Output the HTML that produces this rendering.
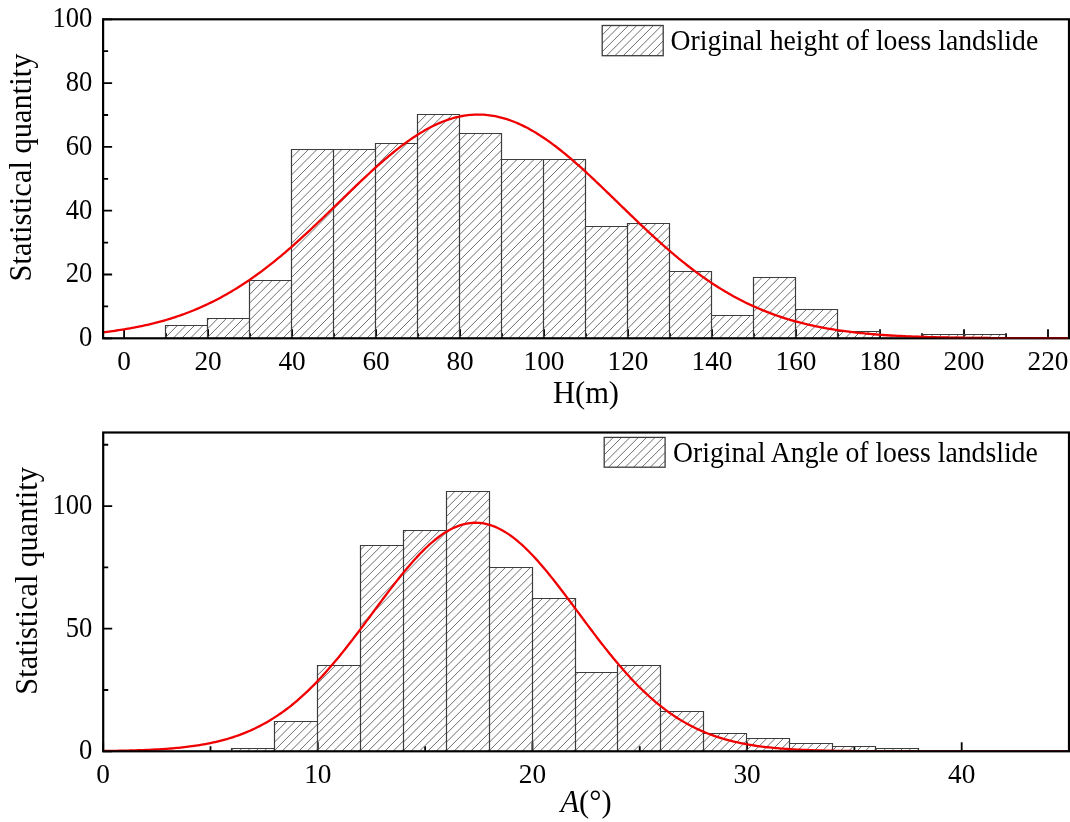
<!DOCTYPE html>
<html><head><meta charset="utf-8"><style>
html,body{margin:0;padding:0;background:#fff;width:1070px;height:822px;overflow:hidden}
svg{display:block;filter:blur(0.4px)}
text{font-family:"Liberation Serif", serif;fill:#000}
</style></head><body>
<svg width="1070" height="822" viewBox="0 0 1070 822">
<rect width="1070" height="822" fill="#fff"/>
<path d="M124.10,338.30V329.30M208.09,338.30V329.30M292.08,338.30V329.30M376.07,338.30V329.30M460.06,338.30V329.30M544.05,338.30V329.30M628.05,338.30V329.30M712.04,338.30V329.30M796.03,338.30V329.30M880.02,338.30V329.30M964.01,338.30V329.30M1048.00,338.30V329.30M166.09,338.30V333.30M250.08,338.30V333.30M334.08,338.30V333.30M418.07,338.30V333.30M502.06,338.30V333.30M586.05,338.30V333.30M670.04,338.30V333.30M754.03,338.30V333.30M838.02,338.30V333.30M922.02,338.30V333.30M1006.01,338.30V333.30M103.10,338.30H112.10M103.10,274.50H112.10M103.10,210.70H112.10M103.10,146.90H112.10M103.10,83.10H112.10M103.10,19.30H112.10M103.10,306.40H108.10M103.10,242.60H108.10M103.10,178.80H108.10M103.10,115.00H108.10M103.10,51.20H108.10" stroke="#000" stroke-width="1.8" fill="none"/>
<path d="M207.35,338.30L207.50,338.15M198.80,338.30L207.50,329.60M190.25,338.30L203.05,325.50M181.70,338.30L194.50,325.50M173.15,338.30L185.95,325.50M165.50,337.40L177.40,325.50M165.50,328.85L168.85,325.50M249.35,338.30L249.50,338.15M240.80,338.30L249.50,329.60M232.25,338.30L249.50,321.05M223.70,338.30L243.50,318.50M215.15,338.30L234.95,318.50M207.50,337.40L226.40,318.50M207.50,328.85L217.85,318.50M207.50,320.30L209.30,318.50M291.35,338.30L291.50,338.15M282.80,338.30L291.50,329.60M274.25,338.30L291.50,321.05M265.70,338.30L291.50,312.50M257.15,338.30L291.50,303.95M249.50,337.40L291.50,295.40M249.50,328.85L291.50,286.85M249.50,320.30L289.30,280.50M249.50,311.75L280.75,280.50M249.50,303.20L272.20,280.50M249.50,294.65L263.65,280.50M249.50,286.10L255.10,280.50M333.35,338.30L333.50,338.15M324.80,338.30L333.50,329.60M316.25,338.30L333.50,321.05M307.70,338.30L333.50,312.50M299.15,338.30L333.50,303.95M291.50,337.40L333.50,295.40M291.50,328.85L333.50,286.85M291.50,320.30L333.50,278.30M291.50,311.75L333.50,269.75M291.50,303.20L333.50,261.20M291.50,294.65L333.50,252.65M291.50,286.10L333.50,244.10M291.50,277.55L333.50,235.55M291.50,269.00L333.50,227.00M291.50,260.45L333.50,218.45M291.50,251.90L333.50,209.90M291.50,243.35L333.50,201.35M291.50,234.80L333.50,192.80M291.50,226.25L333.50,184.25M291.50,217.70L333.50,175.70M291.50,209.15L333.50,167.15M291.50,200.60L333.50,158.60M291.50,192.05L333.50,150.05M291.50,183.50L325.50,149.50M291.50,174.95L316.95,149.50M291.50,166.40L308.40,149.50M291.50,157.85L299.85,149.50M375.35,338.30L375.50,338.15M366.80,338.30L375.50,329.60M358.25,338.30L375.50,321.05M349.70,338.30L375.50,312.50M341.15,338.30L375.50,303.95M333.50,337.40L375.50,295.40M333.50,328.85L375.50,286.85M333.50,320.30L375.50,278.30M333.50,311.75L375.50,269.75M333.50,303.20L375.50,261.20M333.50,294.65L375.50,252.65M333.50,286.10L375.50,244.10M333.50,277.55L375.50,235.55M333.50,269.00L375.50,227.00M333.50,260.45L375.50,218.45M333.50,251.90L375.50,209.90M333.50,243.35L375.50,201.35M333.50,234.80L375.50,192.80M333.50,226.25L375.50,184.25M333.50,217.70L375.50,175.70M333.50,209.15L375.50,167.15M333.50,200.60L375.50,158.60M333.50,192.05L375.50,150.05M333.50,183.50L367.50,149.50M333.50,174.95L358.95,149.50M333.50,166.40L350.40,149.50M333.50,157.85L341.85,149.50M417.35,338.30L417.50,338.15M408.80,338.30L417.50,329.60M400.25,338.30L417.50,321.05M391.70,338.30L417.50,312.50M383.15,338.30L417.50,303.95M375.50,337.40L417.50,295.40M375.50,328.85L417.50,286.85M375.50,320.30L417.50,278.30M375.50,311.75L417.50,269.75M375.50,303.20L417.50,261.20M375.50,294.65L417.50,252.65M375.50,286.10L417.50,244.10M375.50,277.55L417.50,235.55M375.50,269.00L417.50,227.00M375.50,260.45L417.50,218.45M375.50,251.90L417.50,209.90M375.50,243.35L417.50,201.35M375.50,234.80L417.50,192.80M375.50,226.25L417.50,184.25M375.50,217.70L417.50,175.70M375.50,209.15L417.50,167.15M375.50,200.60L417.50,158.60M375.50,192.05L417.50,150.05M375.50,183.50L415.50,143.50M375.50,174.95L406.95,143.50M375.50,166.40L398.40,143.50M375.50,157.85L389.85,143.50M375.50,149.30L381.30,143.50M459.35,338.30L459.50,338.15M450.80,338.30L459.50,329.60M442.25,338.30L459.50,321.05M433.70,338.30L459.50,312.50M425.15,338.30L459.50,303.95M417.50,337.40L459.50,295.40M417.50,328.85L459.50,286.85M417.50,320.30L459.50,278.30M417.50,311.75L459.50,269.75M417.50,303.20L459.50,261.20M417.50,294.65L459.50,252.65M417.50,286.10L459.50,244.10M417.50,277.55L459.50,235.55M417.50,269.00L459.50,227.00M417.50,260.45L459.50,218.45M417.50,251.90L459.50,209.90M417.50,243.35L459.50,201.35M417.50,234.80L459.50,192.80M417.50,226.25L459.50,184.25M417.50,217.70L459.50,175.70M417.50,209.15L459.50,167.15M417.50,200.60L459.50,158.60M417.50,192.05L459.50,150.05M417.50,183.50L459.50,141.50M417.50,174.95L459.50,132.95M417.50,166.40L459.50,124.40M417.50,157.85L459.50,115.85M417.50,149.30L452.30,114.50M417.50,140.75L443.75,114.50M417.50,132.20L435.20,114.50M417.50,123.65L426.65,114.50M417.50,115.10L418.10,114.50M501.35,338.30L501.50,338.15M492.80,338.30L501.50,329.60M484.25,338.30L501.50,321.05M475.70,338.30L501.50,312.50M467.15,338.30L501.50,303.95M459.50,337.40L501.50,295.40M459.50,328.85L501.50,286.85M459.50,320.30L501.50,278.30M459.50,311.75L501.50,269.75M459.50,303.20L501.50,261.20M459.50,294.65L501.50,252.65M459.50,286.10L501.50,244.10M459.50,277.55L501.50,235.55M459.50,269.00L501.50,227.00M459.50,260.45L501.50,218.45M459.50,251.90L501.50,209.90M459.50,243.35L501.50,201.35M459.50,234.80L501.50,192.80M459.50,226.25L501.50,184.25M459.50,217.70L501.50,175.70M459.50,209.15L501.50,167.15M459.50,200.60L501.50,158.60M459.50,192.05L501.50,150.05M459.50,183.50L501.50,141.50M459.50,174.95L500.95,133.50M459.50,166.40L492.40,133.50M459.50,157.85L483.85,133.50M459.50,149.30L475.30,133.50M459.50,140.75L466.75,133.50M543.35,338.30L543.50,338.15M534.80,338.30L543.50,329.60M526.25,338.30L543.50,321.05M517.70,338.30L543.50,312.50M509.15,338.30L543.50,303.95M501.50,337.40L543.50,295.40M501.50,328.85L543.50,286.85M501.50,320.30L543.50,278.30M501.50,311.75L543.50,269.75M501.50,303.20L543.50,261.20M501.50,294.65L543.50,252.65M501.50,286.10L543.50,244.10M501.50,277.55L543.50,235.55M501.50,269.00L543.50,227.00M501.50,260.45L543.50,218.45M501.50,251.90L543.50,209.90M501.50,243.35L543.50,201.35M501.50,234.80L543.50,192.80M501.50,226.25L543.50,184.25M501.50,217.70L543.50,175.70M501.50,209.15L543.50,167.15M501.50,200.60L542.60,159.50M501.50,192.05L534.05,159.50M501.50,183.50L525.50,159.50M501.50,174.95L516.95,159.50M501.50,166.40L508.40,159.50M585.35,338.30L585.50,338.15M576.80,338.30L585.50,329.60M568.25,338.30L585.50,321.05M559.70,338.30L585.50,312.50M551.15,338.30L585.50,303.95M543.50,337.40L585.50,295.40M543.50,328.85L585.50,286.85M543.50,320.30L585.50,278.30M543.50,311.75L585.50,269.75M543.50,303.20L585.50,261.20M543.50,294.65L585.50,252.65M543.50,286.10L585.50,244.10M543.50,277.55L585.50,235.55M543.50,269.00L585.50,227.00M543.50,260.45L585.50,218.45M543.50,251.90L585.50,209.90M543.50,243.35L585.50,201.35M543.50,234.80L585.50,192.80M543.50,226.25L585.50,184.25M543.50,217.70L585.50,175.70M543.50,209.15L585.50,167.15M543.50,200.60L584.60,159.50M543.50,192.05L576.05,159.50M543.50,183.50L567.50,159.50M543.50,174.95L558.95,159.50M543.50,166.40L550.40,159.50M627.35,338.30L627.50,338.15M618.80,338.30L627.50,329.60M610.25,338.30L627.50,321.05M601.70,338.30L627.50,312.50M593.15,338.30L627.50,303.95M585.50,337.40L627.50,295.40M585.50,328.85L627.50,286.85M585.50,320.30L627.50,278.30M585.50,311.75L627.50,269.75M585.50,303.20L627.50,261.20M585.50,294.65L627.50,252.65M585.50,286.10L627.50,244.10M585.50,277.55L627.50,235.55M585.50,269.00L627.50,227.00M585.50,260.45L619.45,226.50M585.50,251.90L610.90,226.50M585.50,243.35L602.35,226.50M585.50,234.80L593.80,226.50M669.35,338.30L669.50,338.15M660.80,338.30L669.50,329.60M652.25,338.30L669.50,321.05M643.70,338.30L669.50,312.50M635.15,338.30L669.50,303.95M627.50,337.40L669.50,295.40M627.50,328.85L669.50,286.85M627.50,320.30L669.50,278.30M627.50,311.75L669.50,269.75M627.50,303.20L669.50,261.20M627.50,294.65L669.50,252.65M627.50,286.10L669.50,244.10M627.50,277.55L669.50,235.55M627.50,269.00L669.50,227.00M627.50,260.45L664.45,223.50M627.50,251.90L655.90,223.50M627.50,243.35L647.35,223.50M627.50,234.80L638.80,223.50M627.50,226.25L630.25,223.50M711.35,338.30L711.50,338.15M702.80,338.30L711.50,329.60M694.25,338.30L711.50,321.05M685.70,338.30L711.50,312.50M677.15,338.30L711.50,303.95M669.50,337.40L711.50,295.40M669.50,328.85L711.50,286.85M669.50,320.30L711.50,278.30M669.50,311.75L709.75,271.50M669.50,303.20L701.20,271.50M669.50,294.65L692.65,271.50M669.50,286.10L684.10,271.50M669.50,277.55L675.55,271.50M753.35,338.30L753.50,338.15M744.80,338.30L753.50,329.60M736.25,338.30L753.50,321.05M727.70,338.30L750.50,315.50M719.15,338.30L741.95,315.50M711.50,337.40L733.40,315.50M711.50,328.85L724.85,315.50M711.50,320.30L716.30,315.50M795.35,338.30L795.50,338.15M786.80,338.30L795.50,329.60M778.25,338.30L795.50,321.05M769.70,338.30L795.50,312.50M761.15,338.30L795.50,303.95M753.50,337.40L795.50,295.40M753.50,328.85L795.50,286.85M753.50,320.30L795.50,278.30M753.50,311.75L787.75,277.50M753.50,303.20L779.20,277.50M753.50,294.65L770.65,277.50M753.50,286.10L762.10,277.50M837.35,338.30L837.50,338.15M828.80,338.30L837.50,329.60M820.25,338.30L837.50,321.05M811.70,338.30L837.50,312.50M803.15,338.30L831.95,309.50M795.50,337.40L823.40,309.50M795.50,328.85L814.85,309.50M795.50,320.30L806.30,309.50M795.50,311.75L797.75,309.50M879.35,338.30L879.50,338.15M870.80,338.30L877.60,331.50M862.25,338.30L869.05,331.50M853.70,338.30L860.50,331.50M845.15,338.30L851.95,331.50M837.50,337.40L843.40,331.50M963.35,338.30L963.50,338.15M954.80,338.30L958.60,334.50M946.25,338.30L950.05,334.50M937.70,338.30L941.50,334.50M929.15,338.30L932.95,334.50M921.50,337.40L924.40,334.50M1005.35,338.30L1005.50,338.15M996.80,338.30L1000.60,334.50M988.25,338.30L992.05,334.50M979.70,338.30L983.50,334.50M971.15,338.30L974.95,334.50M963.50,337.40L966.40,334.50" stroke="#6e6e6e" stroke-width="1.0" fill="none"/>
<path d="M165.50,338.30V325.50H207.50V338.30M207.50,338.30V318.50H249.50V338.30M249.50,338.30V280.50H291.50V338.30M291.50,338.30V149.50H333.50V338.30M333.50,338.30V149.50H375.50V338.30M375.50,338.30V143.50H417.50V338.30M417.50,338.30V114.50H459.50V338.30M459.50,338.30V133.50H501.50V338.30M501.50,338.30V159.50H543.50V338.30M543.50,338.30V159.50H585.50V338.30M585.50,338.30V226.50H627.50V338.30M627.50,338.30V223.50H669.50V338.30M669.50,338.30V271.50H711.50V338.30M711.50,338.30V315.50H753.50V338.30M753.50,338.30V277.50H795.50V338.30M795.50,338.30V309.50H837.50V338.30M837.50,338.30V331.50H879.50V338.30M921.50,338.30V334.50H963.50V338.30M963.50,338.30V334.50H1005.50V338.30" stroke="#3c3c3c" stroke-width="1.2" fill="none"/>
<clipPath id="clipa"><rect x="103.1" y="19.3" width="965.9" height="319.0"/></clipPath>
<polyline clip-path="url(#clipa)" points="103.10,332.26 105.03,332.03 106.96,331.79 108.90,331.55 110.83,331.30 112.76,331.04 114.69,330.77 116.62,330.50 118.55,330.22 120.49,329.92 122.42,329.62 124.35,329.31 126.28,328.99 128.21,328.66 130.15,328.32 132.08,327.97 134.01,327.61 135.94,327.24 137.87,326.86 139.80,326.47 141.74,326.07 143.67,325.65 145.60,325.23 147.53,324.79 149.46,324.34 151.39,323.88 153.33,323.41 155.26,322.92 157.19,322.42 159.12,321.91 161.05,321.38 162.99,320.85 164.92,320.29 166.85,319.73 168.78,319.15 170.71,318.55 172.64,317.94 174.58,317.32 176.51,316.68 178.44,316.02 180.37,315.35 182.30,314.67 184.24,313.97 186.17,313.25 188.10,312.52 190.03,311.77 191.96,311.00 193.89,310.22 195.83,309.42 197.76,308.60 199.69,307.76 201.62,306.91 203.55,306.04 205.49,305.15 207.42,304.25 209.35,303.33 211.28,302.38 213.21,301.42 215.14,300.45 217.08,299.45 219.01,298.43 220.94,297.40 222.87,296.35 224.80,295.27 226.74,294.18 228.67,293.07 230.60,291.95 232.53,290.80 234.46,289.63 236.39,288.44 238.33,287.24 240.26,286.02 242.19,284.77 244.12,283.51 246.05,282.23 247.98,280.93 249.92,279.61 251.85,278.27 253.78,276.91 255.71,275.54 257.64,274.14 259.58,272.73 261.51,271.30 263.44,269.85 265.37,268.38 267.30,266.90 269.23,265.40 271.17,263.88 273.10,262.34 275.03,260.79 276.96,259.22 278.89,257.63 280.83,256.03 282.76,254.41 284.69,252.78 286.62,251.13 288.55,249.46 290.48,247.79 292.42,246.09 294.35,244.39 296.28,242.67 298.21,240.94 300.14,239.19 302.08,237.44 304.01,235.67 305.94,233.89 307.87,232.10 309.80,230.30 311.73,228.49 313.67,226.68 315.60,224.85 317.53,223.02 319.46,221.18 321.39,219.33 323.33,217.47 325.26,215.62 327.19,213.75 329.12,211.89 331.05,210.01 332.98,208.14 334.92,206.26 336.85,204.39 338.78,202.51 340.71,200.63 342.64,198.75 344.57,196.88 346.51,195.01 348.44,193.13 350.37,191.27 352.30,189.41 354.23,187.55 356.17,185.70 358.10,183.85 360.03,182.02 361.96,180.19 363.89,178.37 365.82,176.56 367.76,174.77 369.69,172.98 371.62,171.21 373.55,169.45 375.48,167.70 377.42,165.97 379.35,164.25 381.28,162.55 383.21,160.87 385.14,159.21 387.07,157.57 389.01,155.94 390.94,154.34 392.87,152.76 394.80,151.20 396.73,149.66 398.67,148.15 400.60,146.66 402.53,145.19 404.46,143.76 406.39,142.35 408.32,140.96 410.26,139.61 412.19,138.28 414.12,136.99 416.05,135.72 417.98,134.49 419.92,133.29 421.85,132.12 423.78,130.98 425.71,129.87 427.64,128.81 429.57,127.77 431.51,126.77 433.44,125.81 435.37,124.88 437.30,123.99 439.23,123.14 441.16,122.33 443.10,121.55 445.03,120.82 446.96,120.12 448.89,119.46 450.82,118.84 452.76,118.27 454.69,117.73 456.62,117.23 458.55,116.78 460.48,116.37 462.41,116.00 464.35,115.67 466.28,115.38 468.21,115.14 470.14,114.93 472.07,114.78 474.01,114.66 475.94,114.59 477.87,114.55 479.80,114.57 481.73,114.62 483.66,114.72 485.60,114.86 487.53,115.04 489.46,115.27 491.39,115.54 493.32,115.85 495.26,116.20 497.19,116.59 499.12,117.03 501.05,117.51 502.98,118.03 504.91,118.59 506.85,119.19 508.78,119.83 510.71,120.51 512.64,121.23 514.57,121.99 516.51,122.78 518.44,123.62 520.37,124.49 522.30,125.40 524.23,126.35 526.16,127.33 528.10,128.35 530.03,129.41 531.96,130.49 533.89,131.62 535.82,132.77 537.75,133.96 539.69,135.18 541.62,136.43 543.55,137.72 545.48,139.03 547.41,140.37 549.35,141.74 551.28,143.14 553.21,144.57 555.14,146.02 557.07,147.50 559.00,149.00 560.94,150.52 562.87,152.07 564.80,153.65 566.73,155.24 568.66,156.86 570.60,158.49 572.53,160.15 574.46,161.82 576.39,163.51 578.32,165.22 580.25,166.94 582.19,168.68 584.12,170.44 586.05,172.21 587.98,173.99 589.91,175.78 591.85,177.58 593.78,179.40 595.71,181.22 597.64,183.05 599.57,184.90 601.50,186.74 603.44,188.60 605.37,190.46 607.30,192.32 609.23,194.19 611.16,196.06 613.10,197.94 615.03,199.81 616.96,201.69 618.89,203.57 620.82,205.45 622.75,207.32 624.69,209.20 626.62,211.07 628.55,212.94 630.48,214.81 632.41,216.67 634.35,218.52 636.28,220.37 638.21,222.22 640.14,224.05 642.07,225.88 644.00,227.70 645.94,229.52 647.87,231.32 649.80,233.11 651.73,234.90 653.66,236.67 655.59,238.43 657.53,240.18 659.46,241.92 661.39,243.64 663.32,245.35 665.25,247.05 667.19,248.74 669.12,250.41 671.05,252.06 672.98,253.70 674.91,255.33 676.84,256.94 678.78,258.53 680.71,260.11 682.64,261.67 684.57,263.21 686.50,264.74 688.44,266.25 690.37,267.74 692.30,269.22 694.23,270.67 696.16,272.11 698.09,273.53 700.03,274.93 701.96,276.32 703.89,277.68 705.82,279.03 707.75,280.36 709.69,281.67 711.62,282.95 713.55,284.23 715.48,285.48 717.41,286.71 719.34,287.92 721.28,289.12 723.21,290.29 725.14,291.45 727.07,292.59 729.00,293.70 730.93,294.80 732.87,295.88 734.80,296.94 736.73,297.99 738.66,299.01 740.59,300.01 742.53,301.00 744.46,301.97 746.39,302.92 748.32,303.85 750.25,304.76 752.18,305.66 754.12,306.54 756.05,307.39 757.98,308.24 759.91,309.06 761.84,309.87 763.78,310.66 765.71,311.43 767.64,312.19 769.57,312.93 771.50,313.66 773.43,314.37 775.37,315.06 777.30,315.73 779.23,316.40 781.16,317.04 783.09,317.67 785.03,318.29 786.96,318.89 788.89,319.48 790.82,320.05 792.75,320.61 794.68,321.15 796.62,321.68 798.55,322.20 800.48,322.71 802.41,323.20 804.34,323.68 806.28,324.14 808.21,324.60 810.14,325.04 812.07,325.47 814.00,325.89 815.93,326.30 817.87,326.69 819.80,327.08 821.73,327.45 823.66,327.82 825.59,328.17 827.52,328.51 829.46,328.85 831.39,329.17 833.32,329.49 835.25,329.79 837.18,330.09 839.12,330.38 841.05,330.66 842.98,330.93 844.91,331.19 846.84,331.44 848.77,331.69 850.71,331.93 852.64,332.16 854.57,332.38 856.50,332.60 858.43,332.81 860.37,333.02 862.30,333.21 864.23,333.40 866.16,333.59 868.09,333.77 870.02,333.94 871.96,334.10 873.89,334.27 875.82,334.42 877.75,334.57 879.68,334.72 881.62,334.86 883.55,334.99 885.48,335.12 887.41,335.25 889.34,335.37 891.27,335.49 893.21,335.60 895.14,335.71 897.07,335.81 899.00,335.92 900.93,336.01 902.87,336.11 904.80,336.20 906.73,336.29 908.66,336.37 910.59,336.45 912.52,336.53 914.46,336.60 916.39,336.67 918.32,336.74 920.25,336.81 922.18,336.87 924.11,336.94 926.05,336.99 927.98,337.05 929.91,337.11 931.84,337.16 933.77,337.21 935.71,337.26 937.64,337.30 939.57,337.35 941.50,337.39 943.43,337.43 945.36,337.47 947.30,337.51 949.23,337.54 951.16,337.58 953.09,337.61 955.02,337.64 956.96,337.67 958.89,337.70 960.82,337.73 962.75,337.76 964.68,337.78 966.61,337.81 968.55,337.83 970.48,337.85 972.41,337.87 974.34,337.89 976.27,337.91 978.21,337.93 980.14,337.95 982.07,337.97 984.00,337.98 985.93,338.00 987.86,338.01 989.80,338.03 991.73,338.04 993.66,338.05 995.59,338.07 997.52,338.08 999.46,338.09 1001.39,338.10 1003.32,338.11 1005.25,338.12 1007.18,338.13 1009.11,338.14 1011.05,338.15 1012.98,338.15 1014.91,338.16 1016.84,338.17 1018.77,338.18 1020.71,338.18 1022.64,338.19 1024.57,338.19 1026.50,338.20 1028.43,338.21 1030.36,338.21 1032.30,338.21 1034.23,338.22 1036.16,338.22 1038.09,338.23 1040.02,338.23 1041.95,338.24 1043.89,338.24 1045.82,338.24 1047.75,338.25 1049.68,338.25 1051.61,338.25 1053.55,338.25 1055.48,338.26 1057.41,338.26 1059.34,338.26 1061.27,338.26 1063.20,338.27 1065.14,338.27 1067.07,338.27 1069.00,338.27" fill="none" stroke="#f00000" stroke-width="2.3" stroke-linejoin="round"/>
<rect x="103.10" y="19.30" width="965.90" height="319.00" fill="none" stroke="#000" stroke-width="2.2"/>
<clipPath id="banda"><rect x="104.10" y="335.30" width="963.90" height="4"/></clipPath>
<polyline clip-path="url(#banda)" points="103.10,332.26 105.03,332.03 106.96,331.79 108.90,331.55 110.83,331.30 112.76,331.04 114.69,330.77 116.62,330.50 118.55,330.22 120.49,329.92 122.42,329.62 124.35,329.31 126.28,328.99 128.21,328.66 130.15,328.32 132.08,327.97 134.01,327.61 135.94,327.24 137.87,326.86 139.80,326.47 141.74,326.07 143.67,325.65 145.60,325.23 147.53,324.79 149.46,324.34 151.39,323.88 153.33,323.41 155.26,322.92 157.19,322.42 159.12,321.91 161.05,321.38 162.99,320.85 164.92,320.29 166.85,319.73 168.78,319.15 170.71,318.55 172.64,317.94 174.58,317.32 176.51,316.68 178.44,316.02 180.37,315.35 182.30,314.67 184.24,313.97 186.17,313.25 188.10,312.52 190.03,311.77 191.96,311.00 193.89,310.22 195.83,309.42 197.76,308.60 199.69,307.76 201.62,306.91 203.55,306.04 205.49,305.15 207.42,304.25 209.35,303.33 211.28,302.38 213.21,301.42 215.14,300.45 217.08,299.45 219.01,298.43 220.94,297.40 222.87,296.35 224.80,295.27 226.74,294.18 228.67,293.07 230.60,291.95 232.53,290.80 234.46,289.63 236.39,288.44 238.33,287.24 240.26,286.02 242.19,284.77 244.12,283.51 246.05,282.23 247.98,280.93 249.92,279.61 251.85,278.27 253.78,276.91 255.71,275.54 257.64,274.14 259.58,272.73 261.51,271.30 263.44,269.85 265.37,268.38 267.30,266.90 269.23,265.40 271.17,263.88 273.10,262.34 275.03,260.79 276.96,259.22 278.89,257.63 280.83,256.03 282.76,254.41 284.69,252.78 286.62,251.13 288.55,249.46 290.48,247.79 292.42,246.09 294.35,244.39 296.28,242.67 298.21,240.94 300.14,239.19 302.08,237.44 304.01,235.67 305.94,233.89 307.87,232.10 309.80,230.30 311.73,228.49 313.67,226.68 315.60,224.85 317.53,223.02 319.46,221.18 321.39,219.33 323.33,217.47 325.26,215.62 327.19,213.75 329.12,211.89 331.05,210.01 332.98,208.14 334.92,206.26 336.85,204.39 338.78,202.51 340.71,200.63 342.64,198.75 344.57,196.88 346.51,195.01 348.44,193.13 350.37,191.27 352.30,189.41 354.23,187.55 356.17,185.70 358.10,183.85 360.03,182.02 361.96,180.19 363.89,178.37 365.82,176.56 367.76,174.77 369.69,172.98 371.62,171.21 373.55,169.45 375.48,167.70 377.42,165.97 379.35,164.25 381.28,162.55 383.21,160.87 385.14,159.21 387.07,157.57 389.01,155.94 390.94,154.34 392.87,152.76 394.80,151.20 396.73,149.66 398.67,148.15 400.60,146.66 402.53,145.19 404.46,143.76 406.39,142.35 408.32,140.96 410.26,139.61 412.19,138.28 414.12,136.99 416.05,135.72 417.98,134.49 419.92,133.29 421.85,132.12 423.78,130.98 425.71,129.87 427.64,128.81 429.57,127.77 431.51,126.77 433.44,125.81 435.37,124.88 437.30,123.99 439.23,123.14 441.16,122.33 443.10,121.55 445.03,120.82 446.96,120.12 448.89,119.46 450.82,118.84 452.76,118.27 454.69,117.73 456.62,117.23 458.55,116.78 460.48,116.37 462.41,116.00 464.35,115.67 466.28,115.38 468.21,115.14 470.14,114.93 472.07,114.78 474.01,114.66 475.94,114.59 477.87,114.55 479.80,114.57 481.73,114.62 483.66,114.72 485.60,114.86 487.53,115.04 489.46,115.27 491.39,115.54 493.32,115.85 495.26,116.20 497.19,116.59 499.12,117.03 501.05,117.51 502.98,118.03 504.91,118.59 506.85,119.19 508.78,119.83 510.71,120.51 512.64,121.23 514.57,121.99 516.51,122.78 518.44,123.62 520.37,124.49 522.30,125.40 524.23,126.35 526.16,127.33 528.10,128.35 530.03,129.41 531.96,130.49 533.89,131.62 535.82,132.77 537.75,133.96 539.69,135.18 541.62,136.43 543.55,137.72 545.48,139.03 547.41,140.37 549.35,141.74 551.28,143.14 553.21,144.57 555.14,146.02 557.07,147.50 559.00,149.00 560.94,150.52 562.87,152.07 564.80,153.65 566.73,155.24 568.66,156.86 570.60,158.49 572.53,160.15 574.46,161.82 576.39,163.51 578.32,165.22 580.25,166.94 582.19,168.68 584.12,170.44 586.05,172.21 587.98,173.99 589.91,175.78 591.85,177.58 593.78,179.40 595.71,181.22 597.64,183.05 599.57,184.90 601.50,186.74 603.44,188.60 605.37,190.46 607.30,192.32 609.23,194.19 611.16,196.06 613.10,197.94 615.03,199.81 616.96,201.69 618.89,203.57 620.82,205.45 622.75,207.32 624.69,209.20 626.62,211.07 628.55,212.94 630.48,214.81 632.41,216.67 634.35,218.52 636.28,220.37 638.21,222.22 640.14,224.05 642.07,225.88 644.00,227.70 645.94,229.52 647.87,231.32 649.80,233.11 651.73,234.90 653.66,236.67 655.59,238.43 657.53,240.18 659.46,241.92 661.39,243.64 663.32,245.35 665.25,247.05 667.19,248.74 669.12,250.41 671.05,252.06 672.98,253.70 674.91,255.33 676.84,256.94 678.78,258.53 680.71,260.11 682.64,261.67 684.57,263.21 686.50,264.74 688.44,266.25 690.37,267.74 692.30,269.22 694.23,270.67 696.16,272.11 698.09,273.53 700.03,274.93 701.96,276.32 703.89,277.68 705.82,279.03 707.75,280.36 709.69,281.67 711.62,282.95 713.55,284.23 715.48,285.48 717.41,286.71 719.34,287.92 721.28,289.12 723.21,290.29 725.14,291.45 727.07,292.59 729.00,293.70 730.93,294.80 732.87,295.88 734.80,296.94 736.73,297.99 738.66,299.01 740.59,300.01 742.53,301.00 744.46,301.97 746.39,302.92 748.32,303.85 750.25,304.76 752.18,305.66 754.12,306.54 756.05,307.39 757.98,308.24 759.91,309.06 761.84,309.87 763.78,310.66 765.71,311.43 767.64,312.19 769.57,312.93 771.50,313.66 773.43,314.37 775.37,315.06 777.30,315.73 779.23,316.40 781.16,317.04 783.09,317.67 785.03,318.29 786.96,318.89 788.89,319.48 790.82,320.05 792.75,320.61 794.68,321.15 796.62,321.68 798.55,322.20 800.48,322.71 802.41,323.20 804.34,323.68 806.28,324.14 808.21,324.60 810.14,325.04 812.07,325.47 814.00,325.89 815.93,326.30 817.87,326.69 819.80,327.08 821.73,327.45 823.66,327.82 825.59,328.17 827.52,328.51 829.46,328.85 831.39,329.17 833.32,329.49 835.25,329.79 837.18,330.09 839.12,330.38 841.05,330.66 842.98,330.93 844.91,331.19 846.84,331.44 848.77,331.69 850.71,331.93 852.64,332.16 854.57,332.38 856.50,332.60 858.43,332.81 860.37,333.02 862.30,333.21 864.23,333.40 866.16,333.59 868.09,333.77 870.02,333.94 871.96,334.10 873.89,334.27 875.82,334.42 877.75,334.57 879.68,334.72 881.62,334.86 883.55,334.99 885.48,335.12 887.41,335.25 889.34,335.37 891.27,335.49 893.21,335.60 895.14,335.71 897.07,335.81 899.00,335.92 900.93,336.01 902.87,336.11 904.80,336.20 906.73,336.29 908.66,336.37 910.59,336.45 912.52,336.53 914.46,336.60 916.39,336.67 918.32,336.74 920.25,336.81 922.18,336.87 924.11,336.94 926.05,336.99 927.98,337.05 929.91,337.11 931.84,337.16 933.77,337.21 935.71,337.26 937.64,337.30 939.57,337.35 941.50,337.39 943.43,337.43 945.36,337.47 947.30,337.51 949.23,337.54 951.16,337.58 953.09,337.61 955.02,337.64 956.96,337.67 958.89,337.70 960.82,337.73 962.75,337.76 964.68,337.78 966.61,337.81 968.55,337.83 970.48,337.85 972.41,337.87 974.34,337.89 976.27,337.91 978.21,337.93 980.14,337.95 982.07,337.97 984.00,337.98 985.93,338.00 987.86,338.01 989.80,338.03 991.73,338.04 993.66,338.05 995.59,338.07 997.52,338.08 999.46,338.09 1001.39,338.10 1003.32,338.11 1005.25,338.12 1007.18,338.13 1009.11,338.14 1011.05,338.15 1012.98,338.15 1014.91,338.16 1016.84,338.17 1018.77,338.18 1020.71,338.18 1022.64,338.19 1024.57,338.19 1026.50,338.20 1028.43,338.21 1030.36,338.21 1032.30,338.21 1034.23,338.22 1036.16,338.22 1038.09,338.23 1040.02,338.23 1041.95,338.24 1043.89,338.24 1045.82,338.24 1047.75,338.25 1049.68,338.25 1051.61,338.25 1053.55,338.25 1055.48,338.26 1057.41,338.26 1059.34,338.26 1061.27,338.26 1063.20,338.27 1065.14,338.27 1067.07,338.27 1069.00,338.27" fill="none" stroke="#f00000" stroke-width="2.3" opacity="0.35"/>
<path d="M103.20,751.30V742.30M317.82,751.30V742.30M532.44,751.30V742.30M747.07,751.30V742.30M961.69,751.30V742.30M210.51,751.30V746.30M425.13,751.30V746.30M639.76,751.30V746.30M854.38,751.30V746.30M103.20,751.30H112.20M103.20,628.68H112.20M103.20,506.07H112.20M103.20,689.99H108.20M103.20,567.38H108.20M103.20,444.76H108.20" stroke="#000" stroke-width="1.8" fill="none"/>
<path d="M272.35,751.30L274.50,749.15M264.00,751.30L266.80,748.50M255.65,751.30L258.45,748.50M247.30,751.30L250.10,748.50M238.95,751.30L241.75,748.50M231.50,750.40L233.40,748.50M315.35,751.30L317.50,749.15M307.00,751.30L317.50,740.80M298.65,751.30L317.50,732.45M290.30,751.30L317.50,724.10M281.95,751.30L311.75,721.50M274.50,750.40L303.40,721.50M274.50,742.05L295.05,721.50M274.50,733.70L286.70,721.50M274.50,725.35L278.35,721.50M358.35,751.30L360.50,749.15M350.00,751.30L360.50,740.80M341.65,751.30L360.50,732.45M333.30,751.30L360.50,724.10M324.95,751.30L360.50,715.75M317.50,750.40L360.50,707.40M317.50,742.05L360.50,699.05M317.50,733.70L360.50,690.70M317.50,725.35L360.50,682.35M317.50,717.00L360.50,674.00M317.50,708.65L360.50,665.65M317.50,700.30L352.30,665.50M317.50,691.95L343.95,665.50M317.50,683.60L335.60,665.50M317.50,675.25L327.25,665.50M317.50,666.90L318.90,665.50M401.35,751.30L403.50,749.15M393.00,751.30L403.50,740.80M384.65,751.30L403.50,732.45M376.30,751.30L403.50,724.10M367.95,751.30L403.50,715.75M360.50,750.40L403.50,707.40M360.50,742.05L403.50,699.05M360.50,733.70L403.50,690.70M360.50,725.35L403.50,682.35M360.50,717.00L403.50,674.00M360.50,708.65L403.50,665.65M360.50,700.30L403.50,657.30M360.50,691.95L403.50,648.95M360.50,683.60L403.50,640.60M360.50,675.25L403.50,632.25M360.50,666.90L403.50,623.90M360.50,658.55L403.50,615.55M360.50,650.20L403.50,607.20M360.50,641.85L403.50,598.85M360.50,633.50L403.50,590.50M360.50,625.15L403.50,582.15M360.50,616.80L403.50,573.80M360.50,608.45L403.50,565.45M360.50,600.10L403.50,557.10M360.50,591.75L403.50,548.75M360.50,583.40L398.40,545.50M360.50,575.05L390.05,545.50M360.50,566.70L381.70,545.50M360.50,558.35L373.35,545.50M360.50,550.00L365.00,545.50M444.35,751.30L446.50,749.15M436.00,751.30L446.50,740.80M427.65,751.30L446.50,732.45M419.30,751.30L446.50,724.10M410.95,751.30L446.50,715.75M403.50,750.40L446.50,707.40M403.50,742.05L446.50,699.05M403.50,733.70L446.50,690.70M403.50,725.35L446.50,682.35M403.50,717.00L446.50,674.00M403.50,708.65L446.50,665.65M403.50,700.30L446.50,657.30M403.50,691.95L446.50,648.95M403.50,683.60L446.50,640.60M403.50,675.25L446.50,632.25M403.50,666.90L446.50,623.90M403.50,658.55L446.50,615.55M403.50,650.20L446.50,607.20M403.50,641.85L446.50,598.85M403.50,633.50L446.50,590.50M403.50,625.15L446.50,582.15M403.50,616.80L446.50,573.80M403.50,608.45L446.50,565.45M403.50,600.10L446.50,557.10M403.50,591.75L446.50,548.75M403.50,583.40L446.50,540.40M403.50,575.05L446.50,532.05M403.50,566.70L439.70,530.50M403.50,558.35L431.35,530.50M403.50,550.00L423.00,530.50M403.50,541.65L414.65,530.50M403.50,533.30L406.30,530.50M487.35,751.30L489.50,749.15M479.00,751.30L489.50,740.80M470.65,751.30L489.50,732.45M462.30,751.30L489.50,724.10M453.95,751.30L489.50,715.75M446.50,750.40L489.50,707.40M446.50,742.05L489.50,699.05M446.50,733.70L489.50,690.70M446.50,725.35L489.50,682.35M446.50,717.00L489.50,674.00M446.50,708.65L489.50,665.65M446.50,700.30L489.50,657.30M446.50,691.95L489.50,648.95M446.50,683.60L489.50,640.60M446.50,675.25L489.50,632.25M446.50,666.90L489.50,623.90M446.50,658.55L489.50,615.55M446.50,650.20L489.50,607.20M446.50,641.85L489.50,598.85M446.50,633.50L489.50,590.50M446.50,625.15L489.50,582.15M446.50,616.80L489.50,573.80M446.50,608.45L489.50,565.45M446.50,600.10L489.50,557.10M446.50,591.75L489.50,548.75M446.50,583.40L489.50,540.40M446.50,575.05L489.50,532.05M446.50,566.70L489.50,523.70M446.50,558.35L489.50,515.35M446.50,550.00L489.50,507.00M446.50,541.65L489.50,498.65M446.50,533.30L488.30,491.50M446.50,524.95L479.95,491.50M446.50,516.60L471.60,491.50M446.50,508.25L463.25,491.50M446.50,499.90L454.90,491.50M530.35,751.30L532.50,749.15M522.00,751.30L532.50,740.80M513.65,751.30L532.50,732.45M505.30,751.30L532.50,724.10M496.95,751.30L532.50,715.75M489.50,750.40L532.50,707.40M489.50,742.05L532.50,699.05M489.50,733.70L532.50,690.70M489.50,725.35L532.50,682.35M489.50,717.00L532.50,674.00M489.50,708.65L532.50,665.65M489.50,700.30L532.50,657.30M489.50,691.95L532.50,648.95M489.50,683.60L532.50,640.60M489.50,675.25L532.50,632.25M489.50,666.90L532.50,623.90M489.50,658.55L532.50,615.55M489.50,650.20L532.50,607.20M489.50,641.85L532.50,598.85M489.50,633.50L532.50,590.50M489.50,625.15L532.50,582.15M489.50,616.80L532.50,573.80M489.50,608.45L530.45,567.50M489.50,600.10L522.10,567.50M489.50,591.75L513.75,567.50M489.50,583.40L505.40,567.50M489.50,575.05L497.05,567.50M573.35,751.30L575.50,749.15M565.00,751.30L575.50,740.80M556.65,751.30L575.50,732.45M548.30,751.30L575.50,724.10M539.95,751.30L575.50,715.75M532.50,750.40L575.50,707.40M532.50,742.05L575.50,699.05M532.50,733.70L575.50,690.70M532.50,725.35L575.50,682.35M532.50,717.00L575.50,674.00M532.50,708.65L575.50,665.65M532.50,700.30L575.50,657.30M532.50,691.95L575.50,648.95M532.50,683.60L575.50,640.60M532.50,675.25L575.50,632.25M532.50,666.90L575.50,623.90M532.50,658.55L575.50,615.55M532.50,650.20L575.50,607.20M532.50,641.85L575.50,598.85M532.50,633.50L567.50,598.50M532.50,625.15L559.15,598.50M532.50,616.80L550.80,598.50M532.50,608.45L542.45,598.50M532.50,600.10L534.10,598.50M616.35,751.30L617.50,750.15M608.00,751.30L617.50,741.80M599.65,751.30L617.50,733.45M591.30,751.30L617.50,725.10M582.95,751.30L617.50,716.75M575.50,750.40L617.50,708.40M575.50,742.05L617.50,700.05M575.50,733.70L617.50,691.70M575.50,725.35L617.50,683.35M575.50,717.00L617.50,675.00M575.50,708.65L611.65,672.50M575.50,700.30L603.30,672.50M575.50,691.95L594.95,672.50M575.50,683.60L586.60,672.50M575.50,675.25L578.25,672.50M658.35,751.30L660.50,749.15M650.00,751.30L660.50,740.80M641.65,751.30L660.50,732.45M633.30,751.30L660.50,724.10M624.95,751.30L660.50,715.75M617.50,750.40L660.50,707.40M617.50,742.05L660.50,699.05M617.50,733.70L660.50,690.70M617.50,725.35L660.50,682.35M617.50,717.00L660.50,674.00M617.50,708.65L660.50,665.65M617.50,700.30L652.30,665.50M617.50,691.95L643.95,665.50M617.50,683.60L635.60,665.50M617.50,675.25L627.25,665.50M617.50,666.90L618.90,665.50M701.35,751.30L703.50,749.15M693.00,751.30L703.50,740.80M684.65,751.30L703.50,732.45M676.30,751.30L703.50,724.10M667.95,751.30L703.50,715.75M660.50,750.40L699.40,711.50M660.50,742.05L691.05,711.50M660.50,733.70L682.70,711.50M660.50,725.35L674.35,711.50M660.50,717.00L666.00,711.50M744.35,751.30L746.50,749.15M736.00,751.30L746.50,740.80M727.65,751.30L745.45,733.50M719.30,751.30L737.10,733.50M710.95,751.30L728.75,733.50M703.50,750.40L720.40,733.50M703.50,742.05L712.05,733.50M703.50,733.70L703.70,733.50M787.35,751.30L789.50,749.15M779.00,751.30L789.50,740.80M770.65,751.30L783.45,738.50M762.30,751.30L775.10,738.50M753.95,751.30L766.75,738.50M746.50,750.40L758.40,738.50M746.50,742.05L750.05,738.50M830.35,751.30L832.50,749.15M822.00,751.30L829.80,743.50M813.65,751.30L821.45,743.50M805.30,751.30L813.10,743.50M796.95,751.30L804.75,743.50M789.50,750.40L796.40,743.50M873.35,751.30L875.50,749.15M865.00,751.30L869.80,746.50M856.65,751.30L861.45,746.50M848.30,751.30L853.10,746.50M839.95,751.30L844.75,746.50M832.50,750.40L836.40,746.50M916.35,751.30L918.50,749.15M908.00,751.30L910.80,748.50M899.65,751.30L902.45,748.50M891.30,751.30L894.10,748.50M882.95,751.30L885.75,748.50M875.50,750.40L877.40,748.50" stroke="#6e6e6e" stroke-width="1.0" fill="none"/>
<path d="M231.50,751.30V748.50H274.50V751.30M274.50,751.30V721.50H317.50V751.30M317.50,751.30V665.50H360.50V751.30M360.50,751.30V545.50H403.50V751.30M403.50,751.30V530.50H446.50V751.30M446.50,751.30V491.50H489.50V751.30M489.50,751.30V567.50H532.50V751.30M532.50,751.30V598.50H575.50V751.30M575.50,751.30V672.50H617.50V751.30M617.50,751.30V665.50H660.50V751.30M660.50,751.30V711.50H703.50V751.30M703.50,751.30V733.50H746.50V751.30M746.50,751.30V738.50H789.50V751.30M789.50,751.30V743.50H832.50V751.30M832.50,751.30V746.50H875.50V751.30M875.50,751.30V748.50H918.50V751.30" stroke="#3c3c3c" stroke-width="1.2" fill="none"/>
<clipPath id="clipb"><rect x="103.2" y="432.5" width="965.8" height="318.79999999999995"/></clipPath>
<polyline clip-path="url(#clipb)" points="103.20,750.98 105.13,750.95 107.06,750.93 108.99,750.90 110.93,750.88 112.86,750.85 114.79,750.82 116.72,750.78 118.65,750.75 120.58,750.71 122.52,750.67 124.45,750.63 126.38,750.59 128.31,750.54 130.24,750.49 132.17,750.44 134.11,750.38 136.04,750.32 137.97,750.26 139.90,750.19 141.83,750.12 143.76,750.05 145.70,749.97 147.63,749.89 149.56,749.80 151.49,749.71 153.42,749.61 155.35,749.51 157.28,749.41 159.22,749.29 161.15,749.17 163.08,749.05 165.01,748.92 166.94,748.78 168.87,748.63 170.81,748.48 172.74,748.32 174.67,748.15 176.60,747.97 178.53,747.78 180.46,747.59 182.40,747.38 184.33,747.17 186.26,746.94 188.19,746.71 190.12,746.46 192.05,746.20 193.99,745.93 195.92,745.65 197.85,745.35 199.78,745.04 201.71,744.72 203.64,744.39 205.57,744.04 207.51,743.67 209.44,743.29 211.37,742.89 213.30,742.47 215.23,742.04 217.16,741.59 219.10,741.13 221.03,740.64 222.96,740.13 224.89,739.61 226.82,739.06 228.75,738.50 230.69,737.91 232.62,737.30 234.55,736.66 236.48,736.01 238.41,735.33 240.34,734.62 242.28,733.89 244.21,733.14 246.14,732.36 248.07,731.55 250.00,730.71 251.93,729.85 253.86,728.96 255.80,728.04 257.73,727.09 259.66,726.11 261.59,725.10 263.52,724.06 265.45,722.99 267.39,721.89 269.32,720.75 271.25,719.59 273.18,718.39 275.11,717.15 277.04,715.88 278.98,714.58 280.91,713.24 282.84,711.87 284.77,710.47 286.70,709.02 288.63,707.55 290.57,706.04 292.50,704.49 294.43,702.90 296.36,701.28 298.29,699.63 300.22,697.93 302.15,696.21 304.09,694.44 306.02,692.64 307.95,690.81 309.88,688.94 311.81,687.03 313.74,685.09 315.68,683.11 317.61,681.10 319.54,679.06 321.47,676.98 323.40,674.87 325.33,672.73 327.27,670.56 329.20,668.36 331.13,666.12 333.06,663.86 334.99,661.57 336.92,659.25 338.86,656.90 340.79,654.53 342.72,652.13 344.65,649.72 346.58,647.27 348.51,644.81 350.44,642.33 352.38,639.83 354.31,637.31 356.24,634.78 358.17,632.23 360.10,629.67 362.03,627.09 363.97,624.51 365.90,621.92 367.83,619.33 369.76,616.72 371.69,614.12 373.62,611.52 375.56,608.91 377.49,606.31 379.42,603.72 381.35,601.13 383.28,598.54 385.21,595.97 387.15,593.41 389.08,590.87 391.01,588.34 392.94,585.83 394.87,583.35 396.80,580.88 398.73,578.44 400.67,576.03 402.60,573.64 404.53,571.29 406.46,568.97 408.39,566.68 410.32,564.44 412.26,562.23 414.19,560.06 416.12,557.94 418.05,555.86 419.98,553.83 421.91,551.85 423.85,549.92 425.78,548.04 427.71,546.22 429.64,544.45 431.57,542.75 433.50,541.10 435.44,539.51 437.37,537.99 439.30,536.54 441.23,535.15 443.16,533.82 445.09,532.57 447.02,531.39 448.96,530.28 450.89,529.24 452.82,528.27 454.75,527.38 456.68,526.57 458.61,525.83 460.55,525.17 462.48,524.59 464.41,524.09 466.34,523.66 468.27,523.32 470.20,523.06 472.14,522.87 474.07,522.77 476.00,522.75 477.93,522.81 479.86,522.94 481.79,523.16 483.73,523.46 485.66,523.84 487.59,524.30 489.52,524.84 491.45,525.46 493.38,526.15 495.31,526.92 497.25,527.77 499.18,528.69 501.11,529.69 503.04,530.76 504.97,531.90 506.90,533.12 508.84,534.40 510.77,535.76 512.70,537.18 514.63,538.66 516.56,540.21 518.49,541.82 520.43,543.50 522.36,545.23 524.29,547.02 526.22,548.87 528.15,550.77 530.08,552.72 532.02,554.73 533.95,556.78 535.88,558.88 537.81,561.02 539.74,563.20 541.67,565.43 543.60,567.69 545.54,570.00 547.47,572.33 549.40,574.70 551.33,577.10 553.26,579.52 555.19,581.97 557.13,584.45 559.06,586.95 560.99,589.46 562.92,592.00 564.85,594.55 566.78,597.11 568.72,599.69 570.65,602.28 572.58,604.87 574.51,607.47 576.44,610.07 578.37,612.67 580.31,615.28 582.24,617.88 584.17,620.48 586.10,623.07 588.03,625.66 589.96,628.24 591.89,630.81 593.83,633.36 595.76,635.90 597.69,638.43 599.62,640.94 601.55,643.43 603.48,645.91 605.42,648.36 607.35,650.79 609.28,653.20 611.21,655.59 613.14,657.95 615.07,660.28 617.01,662.59 618.94,664.87 620.87,667.12 622.80,669.34 624.73,671.53 626.66,673.69 628.60,675.81 630.53,677.91 632.46,679.97 634.39,682.00 636.32,683.99 638.25,685.95 640.18,687.88 642.12,689.77 644.05,691.63 645.98,693.45 647.91,695.23 649.84,696.98 651.77,698.69 653.71,700.37 655.64,702.01 657.57,703.61 659.50,705.18 661.43,706.71 663.36,708.21 665.30,709.67 667.23,711.10 669.16,712.49 671.09,713.84 673.02,715.16 674.95,716.45 676.89,717.70 678.82,718.92 680.75,720.11 682.68,721.26 684.61,722.38 686.54,723.47 688.47,724.53 690.41,725.56 692.34,726.55 694.27,727.52 696.20,728.45 698.13,729.36 700.06,730.24 702.00,731.09 703.93,731.91 705.86,732.71 707.79,733.48 709.72,734.22 711.65,734.94 713.59,735.63 715.52,736.30 717.45,736.95 719.38,737.57 721.31,738.17 723.24,738.75 725.18,739.31 727.11,739.84 729.04,740.36 730.97,740.86 732.90,741.34 734.83,741.80 736.76,742.24 738.70,742.66 740.63,743.07 742.56,743.46 744.49,743.83 746.42,744.19 748.35,744.54 750.29,744.87 752.22,745.18 754.15,745.49 756.08,745.78 758.01,746.05 759.94,746.32 761.88,746.57 763.81,746.81 765.74,747.04 767.67,747.26 769.60,747.47 771.53,747.68 773.47,747.87 775.40,748.05 777.33,748.22 779.26,748.39 781.19,748.55 783.12,748.70 785.05,748.84 786.99,748.98 788.92,749.10 790.85,749.23 792.78,749.34 794.71,749.45 796.64,749.56 798.58,749.66 800.51,749.75 802.44,749.84 804.37,749.93 806.30,750.01 808.23,750.08 810.17,750.16 812.10,750.22 814.03,750.29 815.96,750.35 817.89,750.41 819.82,750.46 821.76,750.51 823.69,750.56 825.62,750.61 827.55,750.65 829.48,750.69 831.41,750.73 833.34,750.76 835.28,750.80 837.21,750.83 839.14,750.86 841.07,750.89 843.00,750.92 844.93,750.94 846.87,750.96 848.80,750.99 850.73,751.01 852.66,751.03 854.59,751.04 856.52,751.06 858.46,751.08 860.39,751.09 862.32,751.11 864.25,751.12 866.18,751.13 868.11,751.14 870.05,751.15 871.98,751.16 873.91,751.17 875.84,751.18 877.77,751.19 879.70,751.20 881.63,751.21 883.57,751.21 885.50,751.22 887.43,751.23 889.36,751.23 891.29,751.24 893.22,751.24 895.16,751.24 897.09,751.25 899.02,751.25 900.95,751.26 902.88,751.26 904.81,751.26 906.75,751.27 908.68,751.27 910.61,751.27 912.54,751.27 914.47,751.27 916.40,751.28 918.34,751.28 920.27,751.28 922.20,751.28 924.13,751.28 926.06,751.28 927.99,751.29 929.92,751.29 931.86,751.29 933.79,751.29 935.72,751.29 937.65,751.29 939.58,751.29 941.51,751.29 943.45,751.29 945.38,751.29 947.31,751.29 949.24,751.29 951.17,751.29 953.10,751.30 955.04,751.30 956.97,751.30 958.90,751.30 960.83,751.30 962.76,751.30 964.69,751.30 966.63,751.30 968.56,751.30 970.49,751.30 972.42,751.30 974.35,751.30 976.28,751.30 978.21,751.30 980.15,751.30 982.08,751.30 984.01,751.30 985.94,751.30 987.87,751.30 989.80,751.30 991.74,751.30 993.67,751.30 995.60,751.30 997.53,751.30 999.46,751.30 1001.39,751.30 1003.33,751.30 1005.26,751.30 1007.19,751.30 1009.12,751.30 1011.05,751.30 1012.98,751.30 1014.92,751.30 1016.85,751.30 1018.78,751.30 1020.71,751.30 1022.64,751.30 1024.57,751.30 1026.50,751.30 1028.44,751.30 1030.37,751.30 1032.30,751.30 1034.23,751.30 1036.16,751.30 1038.09,751.30 1040.03,751.30 1041.96,751.30 1043.89,751.30 1045.82,751.30 1047.75,751.30 1049.68,751.30 1051.62,751.30 1053.55,751.30 1055.48,751.30 1057.41,751.30 1059.34,751.30 1061.27,751.30 1063.21,751.30 1065.14,751.30 1067.07,751.30 1069.00,751.30" fill="none" stroke="#f00000" stroke-width="2.3" stroke-linejoin="round"/>
<rect x="103.20" y="432.50" width="965.80" height="318.80" fill="none" stroke="#000" stroke-width="2.2"/>
<text x="124.10" y="369.5" font-size="27.3" text-anchor="middle">0</text>
<text x="208.09" y="369.5" font-size="27.3" text-anchor="middle">20</text>
<text x="292.08" y="369.5" font-size="27.3" text-anchor="middle">40</text>
<text x="376.07" y="369.5" font-size="27.3" text-anchor="middle">60</text>
<text x="460.06" y="369.5" font-size="27.3" text-anchor="middle">80</text>
<text x="544.05" y="369.5" font-size="27.3" text-anchor="middle">100</text>
<text x="628.05" y="369.5" font-size="27.3" text-anchor="middle">120</text>
<text x="712.04" y="369.5" font-size="27.3" text-anchor="middle">140</text>
<text x="796.03" y="369.5" font-size="27.3" text-anchor="middle">160</text>
<text x="880.02" y="369.5" font-size="27.3" text-anchor="middle">180</text>
<text x="964.01" y="369.5" font-size="27.3" text-anchor="middle">200</text>
<text x="1048.00" y="369.5" font-size="27.3" text-anchor="middle">220</text>
<text transform="translate(92.3,346.20) scale(1,1.08)" font-size="26.6" text-anchor="end">0</text>
<text transform="translate(92.3,282.40) scale(1,1.08)" font-size="26.6" text-anchor="end">20</text>
<text transform="translate(92.3,218.60) scale(1,1.08)" font-size="26.6" text-anchor="end">40</text>
<text transform="translate(92.3,154.80) scale(1,1.08)" font-size="26.6" text-anchor="end">60</text>
<text transform="translate(92.3,91.00) scale(1,1.08)" font-size="26.6" text-anchor="end">80</text>
<text transform="translate(92.3,27.20) scale(1,1.08)" font-size="26.6" text-anchor="end">100</text>
<text x="103.20" y="783.2" font-size="27.3" text-anchor="middle">0</text>
<text x="317.82" y="783.2" font-size="27.3" text-anchor="middle">10</text>
<text x="532.44" y="783.2" font-size="27.3" text-anchor="middle">20</text>
<text x="747.07" y="783.2" font-size="27.3" text-anchor="middle">30</text>
<text x="961.69" y="783.2" font-size="27.3" text-anchor="middle">40</text>
<text transform="translate(92.3,759.20) scale(1,1.08)" font-size="26.6" text-anchor="end">0</text>
<text transform="translate(92.3,636.58) scale(1,1.08)" font-size="26.6" text-anchor="end">50</text>
<text transform="translate(92.3,513.97) scale(1,1.08)" font-size="26.6" text-anchor="end">100</text>
<text x="586" y="402.8" font-size="30.5" text-anchor="middle">H(m)</text>
<text x="586" y="812" font-size="30.5" text-anchor="middle"><tspan font-style="italic">A</tspan>(°)</text>
<text transform="translate(30.5,281.4) rotate(-90)" font-size="30.5">Statistical quantity</text>
<text transform="translate(37,694.8) rotate(-90)" font-size="30.5">Statistical quantity</text>
<path d="M656.65,55.70L663.20,49.15M648.30,55.70L663.20,40.80M639.95,55.70L663.20,32.45M631.60,55.70L661.80,25.50M623.25,55.70L653.45,25.50M614.90,55.70L645.10,25.50M606.55,55.70L636.75,25.50M602.20,51.70L628.40,25.50M602.20,43.35L620.05,25.50M602.20,35.00L611.70,25.50M602.20,26.65L603.35,25.50" stroke="#6e6e6e" stroke-width="1.0" fill="none"/>
<rect x="602.2" y="25.5" width="61.0" height="30.200000000000003" fill="none" stroke="#3c3c3c" stroke-width="1.3"/>
<text transform="translate(670.5,49.599999999999994) scale(1,1.045)" font-size="27.7">Original height of loess landslide</text>
<path d="M658.65,467.20L665.10,460.75M650.30,467.20L665.10,452.40M641.95,467.20L665.10,444.05M633.60,467.20L663.40,437.40M625.25,467.20L655.05,437.40M616.90,467.20L646.70,437.40M608.55,467.20L638.35,437.40M604.20,463.20L630.00,437.40M604.20,454.85L621.65,437.40M604.20,446.50L613.30,437.40M604.20,438.15L604.95,437.40" stroke="#6e6e6e" stroke-width="1.0" fill="none"/>
<rect x="604.2" y="437.4" width="60.89999999999998" height="29.80000000000001" fill="none" stroke="#3c3c3c" stroke-width="1.3"/>
<text transform="translate(673.1,461.6) scale(1,1.045)" font-size="27.7">Original Angle of loess landslide</text>
</svg>
</body></html>
